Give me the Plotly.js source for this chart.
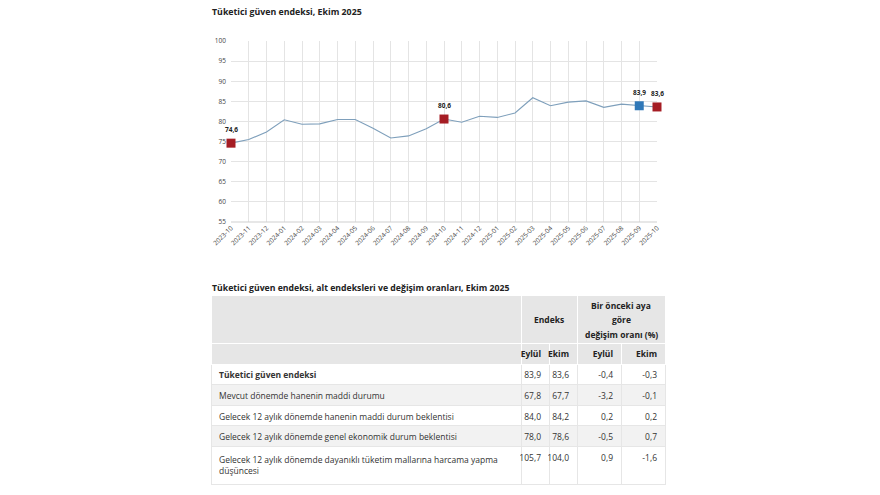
<!DOCTYPE html>
<html>
<head>
<meta charset="utf-8">
<script src="https://cdn.plot.ly/plotly-3.0.1.min.js"></script>
<style>html,body{margin:0;padding:0;background:#fff;}#chart{width:880px;height:495px;}</style>
</head>
<body>
<div id="chart"></div>
<script>
// ---- data ----
const months = ["2023-10","2023-11","2023-12","2024-01","2024-02","2024-03","2024-04","2024-05","2024-06","2024-07","2024-08","2024-09","2024-10","2024-11","2024-12","2025-01","2025-02","2025-03","2025-04","2025-05","2025-06","2025-07","2025-08","2025-09","2025-10"];
const confidence = [74.6,75.5,77.4,80.4,79.3,79.4,80.5,80.5,78.3,75.9,76.4,78.2,80.6,79.8,81.3,81.0,82.1,85.9,83.9,84.8,85.1,83.5,84.3,83.9,83.6];
const redMonths = ["2023-10","2024-10","2025-10"];
const blueMonths = ["2025-09"];

const chartTitle = "Tüketici güven endeksi, Ekim 2025";
const tableTitle = "Tüketici güven endeksi, alt endeksleri ve değişim oranları, Ekim 2025";
const headIndex = "Endeks";
const headChange = ["Bir önceki aya", "göre", "değişim oranı (%)"];
const subHeader = ["", "Eylül", "Ekim", "Eylül", "Ekim"];
const rowLabels = ["Tüketici güven endeksi", "Mevcut dönemde hanenin maddi durumu", "Gelecek 12 aylık dönemde hanenin maddi durum beklentisi", "Gelecek 12 aylık dönemde genel ekonomik durum beklentisi", "Gelecek 12 aylık dönemde dayanıklı tüketim mallarına harcama yapma<br>düşüncesi"];
const indexSep = ["83,9","67,8","84,0","78,0","105,7"];
const indexOct = ["83,6","67,7","84,2","78,6","104,0"];
const changeSep = ["-0,4","-3,2","0,2","-0,5","0,9"];
const changeOct = ["-0,3","-0,1","0,2","0,7","-1,6"];

// ---- build ----
const FONT = "Open Sans, Noto Sans, sans-serif";
const pick = (list) => months.map((m,i)=>list.includes(m)?i:-1).filter(i=>i>=0);
const ri = pick(redMonths), bi = pick(blueMonths);

const W = 880, H = 495;
const px = v => v / W, py = v => 1 - v / H;

const lineTrace = {
  type: "scatter", mode: "lines", x: months, y: confidence,
  line: {color: "#7e9fbb", width: 1.1}, hoverinfo: "skip", showlegend: false
};
const markTrace = (idx, color) => ({
  type: "scatter", mode: "markers",
  x: idx.map(i=>months[i]), y: idx.map(i=>confidence[i]),
  marker: {symbol: "square", size: 9, color: color},
  showlegend: false, cliponaxis: false, hoverinfo: "skip"
});
const pointLabels = ri.concat(bi).map(i => ({
  x: months[i], y: confidence[i], xref: "x", yref: "y",
  text: "<b>" + confidence[i].toFixed(1).replace(".", ",") + "</b>",
  showarrow: false, yshift: 13.5, xanchor: "center", yanchor: "middle",
  font: {family: FONT, size: 6.5, color: "#222"}
}));

const tableX = [px(211), px(665)];
const headFill = "#e6e6e6";
const tableTop = {
  type: "table",
  domain: {x: tableX, y: [py(343), py(295)]},
  columnwidth: [310, 56, 88],
  header: {
    values: ["", "", ""],
    fill: {color: headFill},
    line: {color: "#ffffff", width: 1},
    font: {family: FONT, size: 8.5, color: "#222"},
    height: 48
  },
  cells: {values: [[""],[""],[""]], height: 20, fill: {color: headFill}, line: {color: headFill}}
};
const bodyFill = rowLabels.map((_,i)=> i%2===0 ? "#ffffff" : "#f2f2f2");
const labelWeight = rowLabels.map((_,i)=> i===0 ? "bold" : "normal");
const tableBody = {
  type: "table",
  domain: {x: tableX, y: [py(492), py(343)]},
  columnwidth: [310, 28, 28, 44, 44],
  header: {
    values: subHeader,
    align: "right",
    fill: {color: headFill},
    line: {color: "#ffffff", width: 1},
    font: {family: FONT, size: 8.5, color: "#222", weight: "bold"},
    height: 21
  },
  cells: {
    values: [rowLabels, indexSep, indexOct, changeSep, changeOct],
    align: ["left","right","right","right","right"],
    fill: {color: [bodyFill, bodyFill, bodyFill, bodyFill, bodyFill]},
    line: {color: "#e6e6e6", width: 1},
    font: {family: FONT, size: 8.5, color: "#333", weight: [labelWeight, "normal", "normal", "normal", "normal"]},
    height: 20.6
  }
};

const ann = (text, x, y, size, anchor) => ({
  text: text, xref: "paper", yref: "paper", x: px(x), y: py(y),
  xanchor: anchor || "left", yanchor: "middle", showarrow: false,
  font: {family: FONT, size: size, color: "#222"}
});

const layout = {
  width: W, height: H,
  margin: {l: 0, r: 0, t: 0, b: 0},
  paper_bgcolor: "#fff", plot_bgcolor: "#fff",
  separators: ",.",
  font: {family: FONT, color: "#333"},
  showlegend: false,
  xaxis: {
    domain: [px(231), px(657)], type: "category",
    range: [0, months.length - 1],
    showgrid: true, gridcolor: "#e4e4e4", gridwidth: 1,
    zeroline: false, showline: false,
    tickangle: -45, tickfont: {family: FONT, size: 6.5, color: "#444"},
    ticks: "", fixedrange: true
  },
  yaxis: {
    domain: [py(222), py(41)], range: [55, 100], dtick: 5,
    showgrid: true, gridcolor: "#e4e4e4", gridwidth: 1,
    zeroline: false, showline: false,
    tickfont: {family: FONT, size: 6.5, color: "#444"},
    ticklabelstandoff: 4,
    ticks: "", fixedrange: true
  },
  shapes: [
    {type: "line", xref: "paper", yref: "paper", x0: px(231), x1: px(657), y0: py(222), y1: py(222), line: {color: "#cfcfcf", width: 1}}
  ],
  annotations: [
    ann("<b>" + chartTitle + "</b>", 210, 12, 8.8),
    ann("<b>" + tableTitle + "</b>", 210, 288, 8.7),
    ann("<b>" + headIndex + "</b>", 549, 319, 8.5, "center"),
    ann("<b>" + headChange[0] + "</b>", 621, 305, 8.5, "center"),
    ann("<b>" + headChange[1] + "</b>", 621, 319.5, 8.5, "center"),
    ann("<b>" + headChange[2] + "</b>", 621, 334, 8.5, "center")
  ].concat(pointLabels)
};

Plotly.newPlot("chart", [lineTrace, markTrace(ri, "#a51d24"), markTrace(bi, "#2f78b8"), tableTop, tableBody], layout, {displayModeBar: false});
</script>
</body>
</html>
